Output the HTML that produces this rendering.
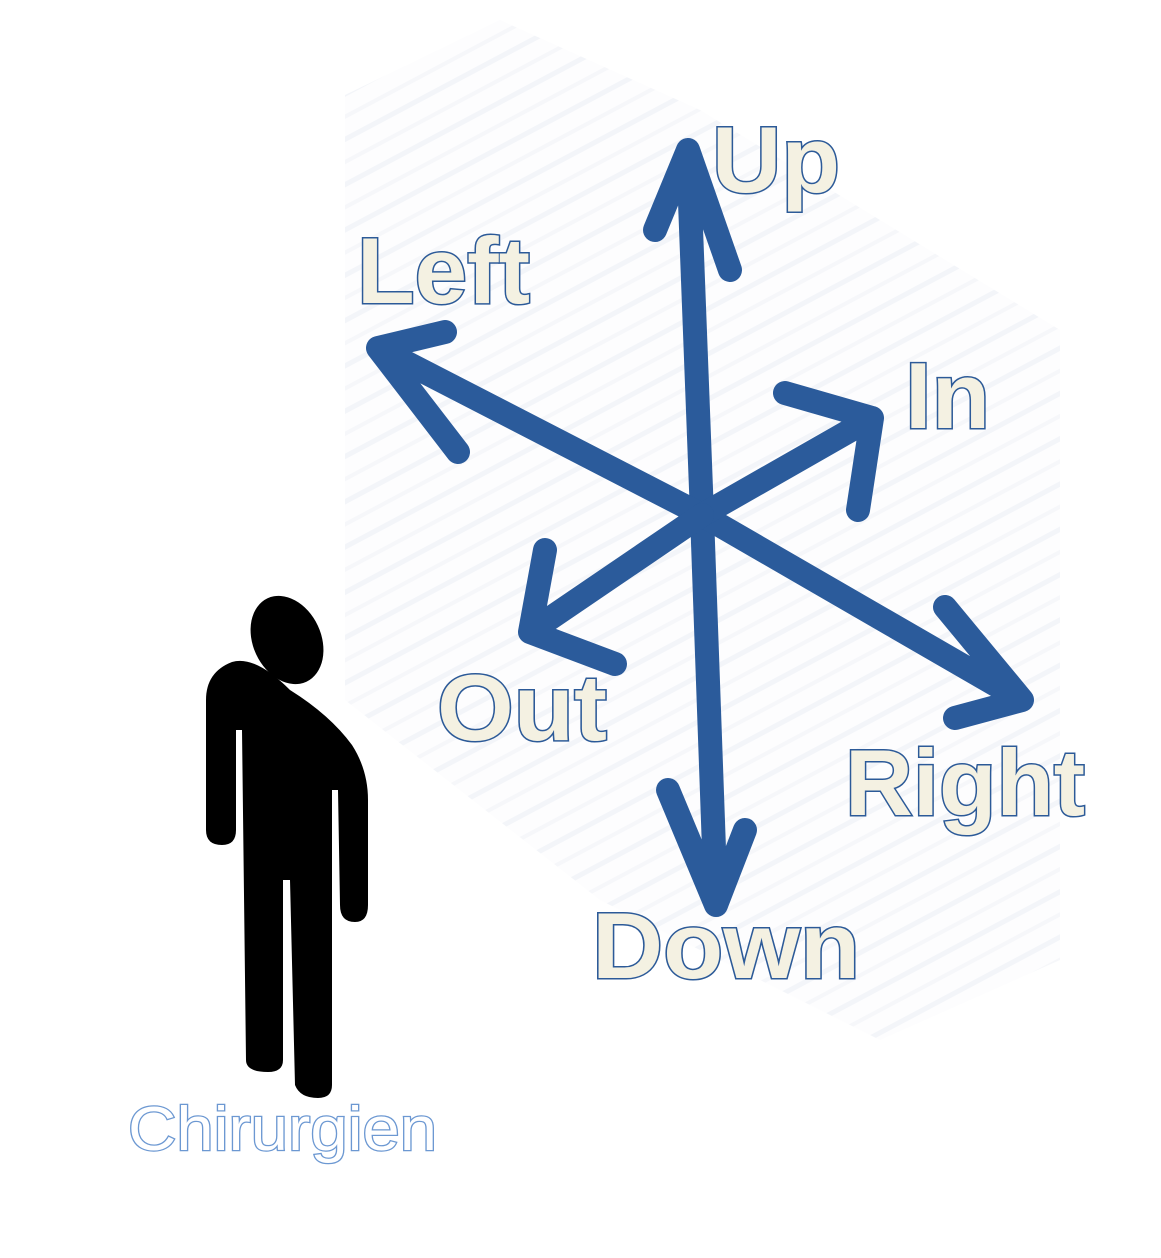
<!DOCTYPE html>
<html><head><meta charset="utf-8"><style>
html,body{margin:0;padding:0;background:#fff;}
svg{display:block;}
.lbl{font-family:"Liberation Sans",sans-serif;font-weight:bold;fill:#f4f1e2;stroke:#2c5a98;stroke-width:3;paint-order:stroke;}
.arr{stroke:#2b5b9b;stroke-width:24;stroke-linecap:round;stroke-linejoin:round;fill:none;}
</style></head><body>
<svg width="1161" height="1258" viewBox="0 0 1161 1258">
<defs>
<pattern id="hatch" width="40" height="40" patternUnits="userSpaceOnUse" patternTransform="rotate(-28)">
<rect width="40" height="40" fill="#fdfdfe"/>
<line x1="0" y1="5" x2="40" y2="5" stroke="#f3f5f9" stroke-width="5"/>
<line x1="0" y1="25" x2="40" y2="25" stroke="#f6f7fa" stroke-width="4"/>
</pattern>
</defs>
<polygon points="345,95 500,20 700,110 1060,330 1060,960 880,1040 600,900 345,700" fill="url(#hatch)"/>

<g>
<path class="arr" d="M702,515 L688,150 M655,230 L688,150 L730,270"/>
<path class="arr" d="M702,515 L716,905 M668,790 L716,905 L745,830"/>
<path class="arr" d="M702,515 L378,348 M445,332 L378,348 L458,452"/>
<path class="arr" d="M702,515 L1022,700 M945,607 L1022,700 L955,718"/>
<path class="arr" d="M702,515 L872,418 M785,393 L872,418 L858,510"/>
<path class="arr" d="M702,515 L530,632 M545,550 L530,632 L615,664"/>
</g>

<text class="lbl" x="712" y="192" font-size="94" textLength="128" lengthAdjust="spacingAndGlyphs">Up</text>
<text class="lbl" x="357" y="303" font-size="94" textLength="173" lengthAdjust="spacingAndGlyphs">Left</text>
<text class="lbl" x="905" y="428" font-size="94" textLength="85" lengthAdjust="spacingAndGlyphs">In</text>
<text class="lbl" x="437" y="740" font-size="94" textLength="170" lengthAdjust="spacingAndGlyphs">Out</text>
<text class="lbl" x="845" y="815" font-size="94" textLength="240" lengthAdjust="spacingAndGlyphs">Right</text>
<text class="lbl" x="592" y="978" font-size="94" textLength="268" lengthAdjust="spacingAndGlyphs">Down</text>

<g fill="#000">
<ellipse cx="287" cy="640" rx="34" ry="46" transform="rotate(-25 287 640)"/>
<path d="M232,662 Q255,655 290,690 Q330,715 352,745 Q368,770 368,800 L368,905 Q368,922 355,922 Q340,922 340,905 L338,790 L332,790 L332,1085 Q332,1098 318,1098 Q300,1098 295,1085 L290,880 L283,880 L283,1060 Q283,1072 268,1072 Q246,1072 246,1060 L242,730 L236,730 L236,830 Q236,845 222,845 Q206,845 206,830 L206,700 Q206,672 232,662 Z"/>
</g>

<text x="128" y="1150" font-family="Liberation Sans, sans-serif" font-size="62" fill="#ffffff" stroke="#6c98d2" stroke-width="2.5" paint-order="stroke" textLength="309" lengthAdjust="spacingAndGlyphs">Chirurgien</text>
</svg>
</body></html>
